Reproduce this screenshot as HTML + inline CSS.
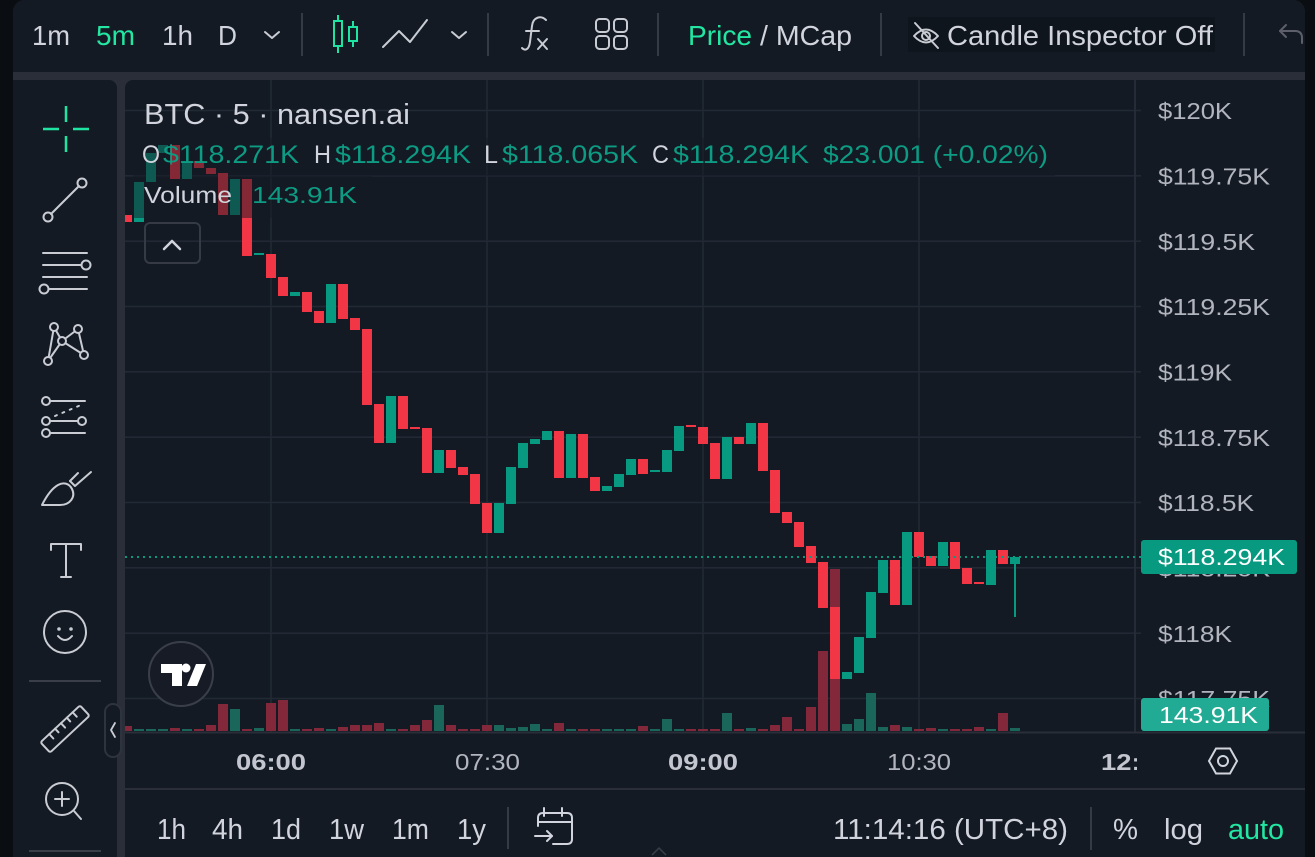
<!DOCTYPE html>
<html>
<head>
<meta charset="utf-8">
<style>
html,body{margin:0;padding:0;background:#0a0e13;}
body{width:1315px;height:857px;overflow:hidden;}
svg{display:block;}
text{font-family:"Liberation Sans",sans-serif;}
</style>
</head>
<body>
<svg width="1315" height="857" viewBox="0 0 1315 857" xmlns="http://www.w3.org/2000/svg">
<defs>
<clipPath id="c12"><rect x="1090" y="740" width="47" height="40"/></clipPath>
<clipPath id="chart"><rect x="125" y="80" width="1010" height="652"/></clipPath>
</defs>
<!-- background -->
<rect x="0" y="0" width="1315" height="857" fill="#0a0e13"/>
<rect x="13" y="0" width="1292" height="870" rx="12" fill="#2a2e39"/>
<!-- top toolbar -->
<rect x="13" y="0" width="1292" height="72" rx="12" fill="#131a23"/>
<rect x="13" y="40" width="1292" height="32" fill="#131a23"/>
<!-- left toolbar -->
<rect x="13" y="80" width="104" height="790" rx="8" fill="#131a23"/>
<rect x="13" y="80" width="30" height="790" fill="#131a23"/>
<!-- chart panel -->
<rect x="125" y="80" width="1180" height="790" rx="8" fill="#131a23"/>
<rect x="1200" y="80" width="105" height="790" fill="#131a23"/>

<!-- ===== top toolbar content ===== -->
<g font-size="28" fill="#d1d4dc">
<text x="32" y="45" textLength="38" lengthAdjust="spacingAndGlyphs">1m</text>
<text x="96" y="45" textLength="39" lengthAdjust="spacingAndGlyphs" fill="#22e6a2">5m</text>
<text x="162" y="45" textLength="31" lengthAdjust="spacingAndGlyphs">1h</text>
<text x="218" y="45" textLength="19" lengthAdjust="spacingAndGlyphs">D</text>
<text x="688" y="45" textLength="64" lengthAdjust="spacingAndGlyphs" fill="#22e6a2">Price</text>
<text x="760" y="45" textLength="92" lengthAdjust="spacingAndGlyphs">/ MCap</text>
</g>
<rect x="908" y="17" width="307" height="35" fill="#0f151d"/>
<text x="947" y="45" font-size="28" fill="#d1d4dc" textLength="266" lengthAdjust="spacingAndGlyphs">Candle Inspector Off</text>
<g stroke="#c9ccd3" stroke-width="2" fill="none" stroke-linecap="round" stroke-linejoin="round">
<polyline points="265,32 272,38 279,32"/>
<polyline points="452,32 459,38 466,32"/>
<polyline points="383,47 399,31 410,42 427,20"/>
<!-- fx -->
<path d="M546 20 C541 15 533 17 532 26 L530 42 C529 50 525 51 522 48"/>
<line x1="526" y1="31" x2="539" y2="31"/>
<line x1="538" y1="39" x2="547" y2="49"/>
<line x1="547" y1="39" x2="538" y2="49"/>
<!-- grid -->
<rect x="596" y="19" width="13" height="13" rx="3.5"/>
<rect x="614" y="19" width="13" height="13" rx="3.5"/>
<rect x="596" y="36" width="13" height="13" rx="3.5"/>
<rect x="614" y="36" width="13" height="13" rx="3.5"/>
<!-- eye off -->
<path d="M914 36 Q926 23 938 36 Q926 49 914 36 Z"/>
<circle cx="926" cy="36" r="4"/>
<line x1="915" y1="23" x2="938" y2="48"/>
</g>
<g stroke="#1fe3a0" stroke-width="2" fill="none">
<line x1="338" y1="15" x2="338" y2="53"/>
<rect x="334" y="21" width="8" height="25" fill="#131a23"/>
<line x1="353" y1="21" x2="353" y2="47"/>
<rect x="349" y="27" width="8" height="14" fill="#131a23"/>
</g>
<g stroke="#5d606b" stroke-width="2" fill="none" stroke-linecap="round" stroke-linejoin="round">
<path d="M1302 43 L1302 38 Q1302 31 1295 31 L1280 31"/>
<polyline points="1286,25 1280,31 1286,37"/>
</g>
<g stroke="#363a45" stroke-width="2">
<line x1="302" y1="13" x2="302" y2="56"/>
<line x1="488" y1="13" x2="488" y2="56"/>
<line x1="658" y1="13" x2="658" y2="56"/>
<line x1="881" y1="13" x2="881" y2="56"/>
<line x1="1244" y1="13" x2="1244" y2="56"/>
</g>

<!-- ===== left toolbar ===== -->
<g stroke="#1fe3a0" stroke-width="2.5">
<line x1="66" y1="106" x2="66" y2="122"/>
<line x1="66" y1="136" x2="66" y2="152"/>
<line x1="43" y1="129" x2="59" y2="129"/>
<line x1="73" y1="129" x2="89" y2="129"/>
</g>
<g stroke="#c9ccd3" stroke-width="2" fill="none" stroke-linecap="round" stroke-linejoin="round">
<!-- line tool -->
<circle cx="48" cy="217" r="4.5"/>
<circle cx="82" cy="183" r="4.5"/>
<line x1="51" y1="214" x2="79" y2="186"/>
<!-- hlines -->
<line x1="43" y1="253" x2="87" y2="253"/>
<line x1="43" y1="265" x2="81" y2="265"/>
<circle cx="86" cy="265" r="4.5"/>
<line x1="43" y1="277" x2="87" y2="277"/>
<line x1="49" y1="289" x2="87" y2="289"/>
<circle cx="44" cy="289" r="4.5"/>
<!-- pattern -->
<line x1="48" y1="361" x2="54" y2="327"/>
<line x1="54" y1="327" x2="62" y2="341"/>
<line x1="62" y1="341" x2="78" y2="329"/>
<line x1="78" y1="329" x2="84" y2="355"/>
<line x1="62" y1="341" x2="84" y2="355"/>
<line x1="48" y1="361" x2="62" y2="341"/>
<circle cx="54" cy="327" r="4" fill="#131a23"/>
<circle cx="78" cy="329" r="4" fill="#131a23"/>
<circle cx="62" cy="341" r="4" fill="#131a23"/>
<circle cx="84" cy="355" r="4" fill="#131a23"/>
<circle cx="48" cy="361" r="4" fill="#131a23"/>
<!-- fib -->
<line x1="50" y1="401" x2="85" y2="401"/>
<circle cx="46" cy="401" r="4"/>
<line x1="50" y1="421" x2="78" y2="421"/>
<circle cx="46" cy="421" r="4"/>
<circle cx="82" cy="421" r="4"/>
<line x1="50" y1="433" x2="85" y2="433"/>
<circle cx="46" cy="433" r="4"/>
<line x1="55" y1="416" x2="81" y2="405" stroke-dasharray="2 6"/>
<!-- brush -->
<path d="M42 505 L60 505 C70 505 76 497 72 489 C69 483 63 482 58 485 C51 489 46 497 42 505 Z"/>
<path d="M70 481 L75 486 L91 472"/>
<path d="M70 481 L78 473"/>
<!-- T -->
<path d="M51 550 L51 544 L81 544 L81 550"/>
<line x1="66" y1="544" x2="66" y2="577"/>
<line x1="61" y1="577" x2="71" y2="577"/>
<!-- smiley -->
<circle cx="65" cy="632" r="21"/>
<path d="M58 636 Q65 644 72 636"/>
<!-- ruler -->
<g transform="translate(65,729) rotate(-43)">
<rect x="-27" y="-7" width="54" height="14" rx="2"/>
<line x1="-15" y1="-7" x2="-15" y2="-1"/>
<line x1="-7" y1="-7" x2="-7" y2="-2"/>
<line x1="1" y1="-7" x2="1" y2="-1"/>
<line x1="9" y1="-7" x2="9" y2="-2"/>
<line x1="17" y1="-7" x2="17" y2="-1"/>
</g>
<!-- zoom -->
<circle cx="62" cy="799" r="16"/>
<line x1="55" y1="799" x2="69" y2="799"/>
<line x1="62" y1="792" x2="62" y2="806"/>
<line x1="74" y1="811" x2="81" y2="819"/>
</g>
<circle cx="59" cy="629" r="1.8" fill="#c9ccd3"/>
<circle cx="71" cy="629" r="1.8" fill="#c9ccd3"/>
<rect x="29" y="680" width="72" height="2" fill="#3a3e48"/>
<rect x="29" y="850" width="72" height="2" fill="#3a3e48"/>

<!-- ===== chart grid ===== -->
<g stroke="#222934" stroke-width="1.6">
<line x1="125" y1="110.5" x2="1141" y2="110.5"/>
<line x1="125" y1="175.8" x2="1141" y2="175.8"/>
<line x1="125" y1="241.2" x2="1141" y2="241.2"/>
<line x1="125" y1="306.5" x2="1141" y2="306.5"/>
<line x1="125" y1="371.8" x2="1141" y2="371.8"/>
<line x1="125" y1="437.2" x2="1141" y2="437.2"/>
<line x1="125" y1="502.5" x2="1141" y2="502.5"/>
<line x1="125" y1="567.8" x2="1141" y2="567.8"/>
<line x1="125" y1="633.2" x2="1141" y2="633.2"/>
<line x1="125" y1="698.5" x2="1141" y2="698.5"/>
<line x1="271" y1="80" x2="271" y2="732"/>
<line x1="487" y1="80" x2="487" y2="732"/>
<line x1="703" y1="80" x2="703" y2="732"/>
<line x1="919" y1="80" x2="919" y2="732"/>
</g>
<rect x="1134" y="80" width="2" height="652" fill="#262c37"/>

<!-- watermark logo -->
<circle cx="181" cy="674" r="32" fill="#161b26" stroke="#3a3e48" stroke-width="2"/>
<path d="M161 664 H182 V686 H172 V673 H161 Z" fill="#ffffff"/>
<circle cx="186" cy="668" r="4.5" fill="#ffffff"/>
<polygon points="187,686 196,664 206,664 197,686" fill="#ffffff"/>

<!-- volumes -->
<g clip-path="url(#chart)">
<g fill="#82283a" fill-opacity="1">
<rect x="125" y="726" width="7" height="5"/>
<rect x="170" y="728" width="10" height="3"/>
<rect x="194" y="729" width="10" height="2"/>
<rect x="206" y="725" width="10" height="6"/>
<rect x="218" y="704" width="10" height="27"/>
<rect x="242" y="729" width="10" height="2"/>
<rect x="266" y="703" width="10" height="28"/>
<rect x="278" y="700" width="10" height="31"/>
<rect x="302" y="729" width="10" height="2"/>
<rect x="314" y="728" width="10" height="3"/>
<rect x="338" y="727" width="10" height="4"/>
<rect x="350" y="725" width="10" height="6"/>
<rect x="362" y="725" width="10" height="6"/>
<rect x="374" y="723" width="10" height="8"/>
<rect x="398" y="729" width="10" height="2"/>
<rect x="410" y="725" width="10" height="6"/>
<rect x="422" y="720" width="10" height="11"/>
<rect x="446" y="725" width="10" height="6"/>
<rect x="458" y="729" width="10" height="2"/>
<rect x="470" y="729" width="10" height="2"/>
<rect x="482" y="725" width="10" height="6"/>
<rect x="554" y="723" width="10" height="8"/>
<rect x="578" y="729" width="10" height="2"/>
<rect x="590" y="729" width="10" height="2"/>
<rect x="638" y="726" width="10" height="5"/>
<rect x="686" y="729" width="10" height="2"/>
<rect x="698" y="729" width="10" height="2"/>
<rect x="710" y="729" width="10" height="2"/>
<rect x="734" y="729" width="10" height="2"/>
<rect x="758" y="729" width="10" height="2"/>
<rect x="770" y="725" width="10" height="6"/>
<rect x="782" y="717" width="10" height="14"/>
<rect x="794" y="729" width="10" height="2"/>
<rect x="806" y="707" width="10" height="24"/>
<rect x="818" y="651" width="10" height="80"/>
<rect x="830" y="569" width="10" height="162"/>
<rect x="890" y="725" width="10" height="6"/>
<rect x="914" y="729" width="10" height="2"/>
<rect x="926" y="728" width="10" height="3"/>
<rect x="950" y="729" width="10" height="2"/>
<rect x="962" y="729" width="10" height="2"/>
<rect x="974" y="727" width="10" height="4"/>
<rect x="998" y="713" width="10" height="18"/>
</g>
<g fill="#1b665b">
<rect x="134" y="729" width="10" height="2"/>
<rect x="146" y="729" width="10" height="2"/>
<rect x="158" y="729" width="10" height="2"/>
<rect x="182" y="729" width="10" height="2"/>
<rect x="230" y="709" width="10" height="22"/>
<rect x="254" y="728" width="10" height="3"/>
<rect x="290" y="729" width="10" height="2"/>
<rect x="326" y="729" width="10" height="2"/>
<rect x="386" y="729" width="10" height="2"/>
<rect x="434" y="705" width="10" height="26"/>
<rect x="494" y="725" width="10" height="6"/>
<rect x="506" y="728" width="10" height="3"/>
<rect x="518" y="727" width="10" height="4"/>
<rect x="530" y="724" width="10" height="7"/>
<rect x="542" y="729" width="10" height="2"/>
<rect x="566" y="729" width="10" height="2"/>
<rect x="602" y="729" width="10" height="2"/>
<rect x="614" y="729" width="10" height="2"/>
<rect x="626" y="729" width="10" height="2"/>
<rect x="650" y="729" width="10" height="2"/>
<rect x="662" y="719" width="10" height="12"/>
<rect x="674" y="729" width="10" height="2"/>
<rect x="722" y="713" width="10" height="18"/>
<rect x="746" y="728" width="10" height="3"/>
<rect x="842" y="724" width="10" height="7"/>
<rect x="854" y="719" width="10" height="12"/>
<rect x="866" y="693" width="10" height="38"/>
<rect x="878" y="727" width="10" height="4"/>
<rect x="902" y="727" width="10" height="4"/>
<rect x="938" y="729" width="10" height="2"/>
<rect x="986" y="729" width="10" height="2"/>
<rect x="1010" y="728" width="10" height="3"/>
</g>

<!-- candles -->
<g fill="#f23645">
<rect x="125" y="215" width="7" height="7"/>
<rect x="170" y="145" width="10" height="34"/>
<rect x="194" y="161" width="10" height="7"/>
<rect x="206" y="168" width="10" height="6"/>
<rect x="218" y="173" width="10" height="42"/>
<rect x="242" y="179" width="10" height="77"/>
<rect x="266" y="254" width="10" height="24"/>
<rect x="278" y="277" width="10" height="19"/>
<rect x="302" y="292" width="10" height="20"/>
<rect x="314" y="311" width="10" height="12"/>
<rect x="338" y="284" width="10" height="35"/>
<rect x="350" y="318" width="10" height="12"/>
<rect x="362" y="329" width="10" height="76"/>
<rect x="374" y="404" width="10" height="39"/>
<rect x="398" y="396" width="10" height="33"/>
<rect x="410" y="427" width="10" height="2"/>
<rect x="422" y="428" width="10" height="45"/>
<rect x="446" y="450" width="10" height="18"/>
<rect x="458" y="467" width="10" height="8"/>
<rect x="470" y="474" width="10" height="30"/>
<rect x="482" y="503" width="10" height="30"/>
<rect x="554" y="431" width="10" height="47"/>
<rect x="578" y="434" width="10" height="44"/>
<rect x="590" y="477" width="10" height="14"/>
<rect x="638" y="459" width="10" height="15"/>
<rect x="686" y="425" width="10" height="2"/>
<rect x="698" y="427" width="10" height="17"/>
<rect x="710" y="443" width="10" height="36"/>
<rect x="734" y="437" width="10" height="7"/>
<rect x="758" y="423" width="10" height="48"/>
<rect x="770" y="470" width="10" height="43"/>
<rect x="782" y="512" width="10" height="11"/>
<rect x="794" y="522" width="10" height="25"/>
<rect x="806" y="546" width="10" height="17"/>
<rect x="818" y="562" width="10" height="46"/>
<rect x="830" y="607" width="10" height="72"/>
<rect x="890" y="560" width="10" height="45"/>
<rect x="914" y="532" width="10" height="25"/>
<rect x="926" y="556" width="10" height="10"/>
<rect x="950" y="542" width="10" height="27"/>
<rect x="962" y="568" width="10" height="16"/>
<rect x="974" y="582" width="10" height="2"/>
<rect x="998" y="550" width="10" height="14"/>
</g>
<g fill="#089981">
<rect x="134" y="182" width="10" height="40"/>
<rect x="146" y="153" width="10" height="29"/>
<rect x="158" y="145" width="10" height="8"/>
<rect x="182" y="161" width="10" height="18"/>
<rect x="230" y="179" width="10" height="36"/>
<rect x="254" y="253" width="10" height="2"/>
<rect x="290" y="292" width="10" height="4"/>
<rect x="326" y="284" width="10" height="39"/>
<rect x="386" y="396" width="10" height="47"/>
<rect x="434" y="450" width="10" height="23"/>
<rect x="494" y="503" width="10" height="30"/>
<rect x="506" y="467" width="10" height="37"/>
<rect x="518" y="443" width="10" height="25"/>
<rect x="530" y="439" width="10" height="5"/>
<rect x="542" y="431" width="10" height="9"/>
<rect x="566" y="434" width="10" height="44"/>
<rect x="602" y="486" width="10" height="5"/>
<rect x="614" y="474" width="10" height="13"/>
<rect x="626" y="459" width="10" height="16"/>
<rect x="650" y="470" width="10" height="2"/>
<rect x="662" y="450" width="10" height="22"/>
<rect x="674" y="426" width="10" height="25"/>
<rect x="722" y="437" width="10" height="42"/>
<rect x="746" y="423" width="10" height="21"/>
<rect x="842" y="672" width="10" height="7"/>
<rect x="854" y="637" width="10" height="36"/>
<rect x="866" y="592" width="10" height="46"/>
<rect x="878" y="560" width="10" height="33"/>
<rect x="902" y="532" width="10" height="73"/>
<rect x="938" y="542" width="10" height="24"/>
<rect x="986" y="550" width="10" height="35"/>
<rect x="1010" y="557" width="10" height="7"/>
<rect x="1014" y="557" width="2" height="60"/>
</g>
</g>

<!-- last price dotted line -->
<line x1="125" y1="557" x2="1141" y2="557" stroke="#089981" stroke-width="2" stroke-dasharray="2 4"/>

<!-- legend dim overlays -->
<rect x="133" y="138" width="922" height="38" fill="#131a23" fill-opacity="0.5"/>
<rect x="133" y="176" width="239" height="42" fill="#131a23" fill-opacity="0.5"/>

<!-- legend text -->
<text x="144" y="124" font-size="29" fill="#d1d4dc" textLength="266" lengthAdjust="spacingAndGlyphs">BTC · 5 · nansen.ai</text>
<g font-size="25">
<text x="142" y="163" fill="#d1d4dc" textLength="18" lengthAdjust="spacingAndGlyphs">O</text>
<text x="163" y="163" fill="#0d9b83" textLength="136" lengthAdjust="spacingAndGlyphs">$118.271K</text>
<text x="314" y="163" fill="#d1d4dc" textLength="17" lengthAdjust="spacingAndGlyphs">H</text>
<text x="335" y="163" fill="#0d9b83" textLength="136" lengthAdjust="spacingAndGlyphs">$118.294K</text>
<text x="484" y="163" fill="#d1d4dc" textLength="14" lengthAdjust="spacingAndGlyphs">L</text>
<text x="502" y="163" fill="#0d9b83" textLength="136" lengthAdjust="spacingAndGlyphs">$118.065K</text>
<text x="652" y="163" fill="#d1d4dc" textLength="17" lengthAdjust="spacingAndGlyphs">C</text>
<text x="673" y="163" fill="#0d9b83" textLength="136" lengthAdjust="spacingAndGlyphs">$118.294K</text>
<text x="823" y="163" fill="#0d9b83" textLength="225" lengthAdjust="spacingAndGlyphs">$23.001 (+0.02%)</text>
</g>
<text x="144" y="203" font-size="23" fill="#d1d4dc" textLength="88" lengthAdjust="spacingAndGlyphs">Volume</text>
<text x="252" y="203" font-size="23" fill="#0d9b83" textLength="105" lengthAdjust="spacingAndGlyphs">143.91K</text>
<rect x="145" y="223" width="55" height="40" rx="5" fill="none" stroke="#363a45" stroke-width="2"/>
<polyline points="164,249 172,241 180,249" fill="none" stroke="#d1d4dc" stroke-width="2.5" stroke-linecap="round" stroke-linejoin="round"/>

<!-- price axis labels -->
<g font-size="23" fill="#b2b5be">
<text x="1158" y="119" textLength="74" lengthAdjust="spacingAndGlyphs">$120K</text>
<text x="1158" y="184.5" textLength="112" lengthAdjust="spacingAndGlyphs">$119.75K</text>
<text x="1158" y="250" textLength="97" lengthAdjust="spacingAndGlyphs">$119.5K</text>
<text x="1158" y="315" textLength="112" lengthAdjust="spacingAndGlyphs">$119.25K</text>
<text x="1158" y="380.5" textLength="74" lengthAdjust="spacingAndGlyphs">$119K</text>
<text x="1158" y="446" textLength="112" lengthAdjust="spacingAndGlyphs">$118.75K</text>
<text x="1158" y="511" textLength="96" lengthAdjust="spacingAndGlyphs">$118.5K</text>
<text x="1158" y="576.5" textLength="112" lengthAdjust="spacingAndGlyphs">$118.25K</text>
<text x="1158" y="642" textLength="74" lengthAdjust="spacingAndGlyphs">$118K</text>
<text x="1158" y="707" textLength="112" lengthAdjust="spacingAndGlyphs">$117.75K</text>
</g>
<rect x="1141" y="540" width="156" height="34" rx="3" fill="#089981"/>
<text x="1158" y="565" font-size="23" fill="#ffffff" textLength="127" lengthAdjust="spacingAndGlyphs">$118.294K</text>
<rect x="1141" y="698" width="128" height="33" rx="3" fill="#22ab94"/>
<text x="1159" y="723" font-size="23" fill="#ffffff" textLength="99" lengthAdjust="spacingAndGlyphs">143.91K</text>

<!-- chart bottom & time axis -->
<rect x="125" y="731.5" width="1180" height="2" fill="#2a2e39"/>
<rect x="125" y="788" width="1180" height="2" fill="#2a2e39"/>
<g font-size="23">
<text x="236" y="770" font-weight="bold" fill="#c3c6ce" textLength="70" lengthAdjust="spacingAndGlyphs">06:00</text>
<text x="455" y="770" fill="#b2b5be" textLength="65" lengthAdjust="spacingAndGlyphs">07:30</text>
<text x="668" y="770" font-weight="bold" fill="#c3c6ce" textLength="70" lengthAdjust="spacingAndGlyphs">09:00</text>
<text x="887" y="770" fill="#b2b5be" textLength="64" lengthAdjust="spacingAndGlyphs">10:30</text>
<g clip-path="url(#c12)"><text x="1101" y="770" font-weight="bold" fill="#c3c6ce" textLength="70" lengthAdjust="spacingAndGlyphs">12:00</text></g>
</g>
<polygon points="1209,761 1216,748.5 1230,748.5 1237,761 1230,773.5 1216,773.5" fill="none" stroke="#d1d4dc" stroke-width="2"/>
<circle cx="1223" cy="761" r="5" fill="none" stroke="#d1d4dc" stroke-width="2"/>

<!-- collapse button -->
<rect x="105" y="704" width="16" height="53" rx="8" fill="#131a23" stroke="#2f333e" stroke-width="2"/>
<polyline points="115,723 111,730 115,737" fill="none" stroke="#c9ccd3" stroke-width="1.8" stroke-linecap="round" stroke-linejoin="round"/>

<!-- bottom toolbar -->
<g font-size="29" fill="#d1d4dc">
<text x="157" y="839" textLength="29" lengthAdjust="spacingAndGlyphs">1h</text>
<text x="212" y="839" textLength="31" lengthAdjust="spacingAndGlyphs">4h</text>
<text x="271" y="839" textLength="30" lengthAdjust="spacingAndGlyphs">1d</text>
<text x="329" y="839" textLength="35" lengthAdjust="spacingAndGlyphs">1w</text>
<text x="392" y="839" textLength="37" lengthAdjust="spacingAndGlyphs">1m</text>
<text x="457" y="839" textLength="29" lengthAdjust="spacingAndGlyphs">1y</text>
<text x="833" y="839" textLength="235" lengthAdjust="spacingAndGlyphs">11:14:16 (UTC+8)</text>
<text x="1113" y="839" textLength="25" lengthAdjust="spacingAndGlyphs">%</text>
<text x="1164" y="839" textLength="39" lengthAdjust="spacingAndGlyphs">log</text>
<text x="1228" y="839" textLength="56" lengthAdjust="spacingAndGlyphs" fill="#22e6a2">auto</text>
</g>
<g stroke="#363a45" stroke-width="2">
<line x1="508" y1="807" x2="508" y2="849"/>
<line x1="1091" y1="807" x2="1091" y2="850"/>
</g>
<g stroke="#d1d4dc" stroke-width="2" fill="none" stroke-linecap="round" stroke-linejoin="round">
<path d="M538 826 L538 818 Q538 813 543 813 L567 813 Q572 813 572 818 L572 839 Q572 844 567 844 L553 844"/>
<line x1="538" y1="822" x2="572" y2="822"/>
<line x1="544" y1="808" x2="544" y2="816"/>
<line x1="562" y1="808" x2="562" y2="816"/>
<line x1="535" y1="836" x2="552" y2="836"/>
<polyline points="547,831 552,836 547,841"/>
</g>
<polyline points="652,855 659,848 666,855" fill="none" stroke="#3a3e48" stroke-width="1.5"/>
</svg>
</body>
</html>
